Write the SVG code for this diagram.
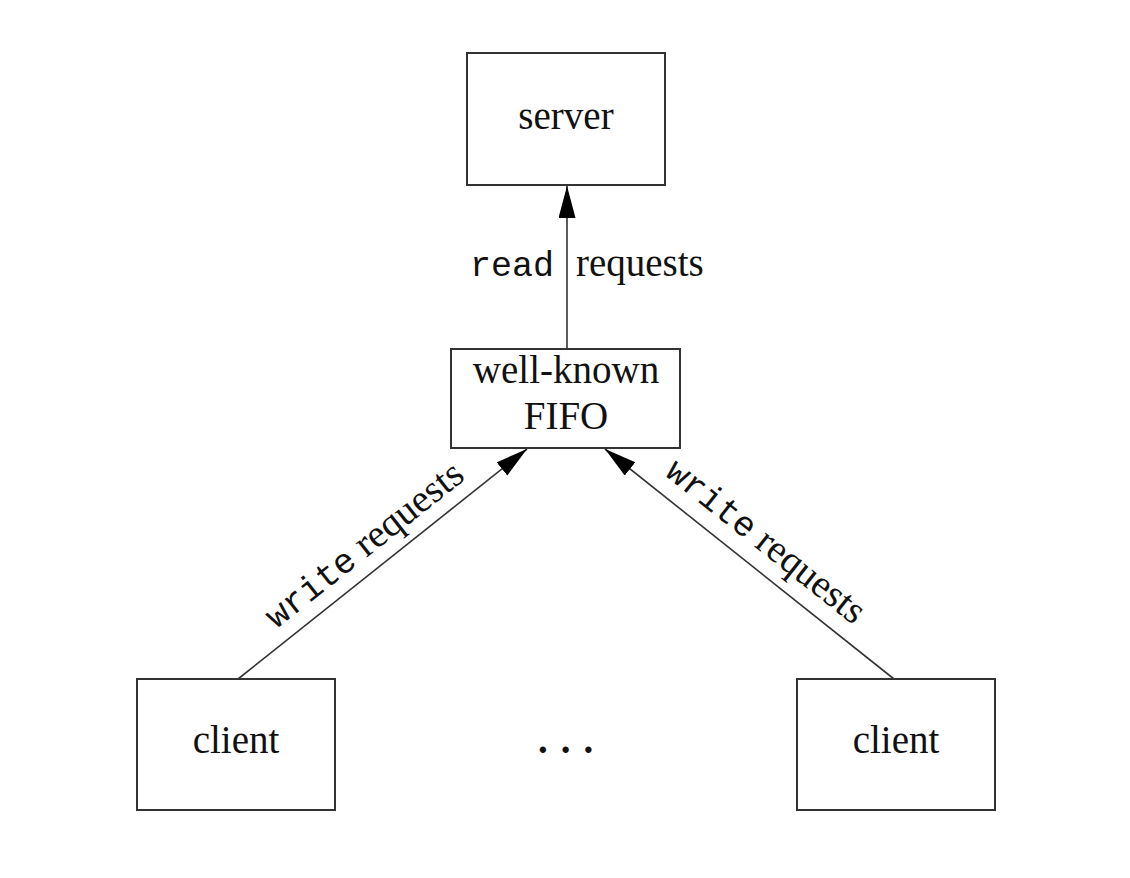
<svg xmlns="http://www.w3.org/2000/svg" width="1130" height="878" viewBox="0 0 1130 878">
<style>
.box{fill:#fff;stroke:#333;stroke-width:2}
.t{font-family:"Liberation Serif",serif;font-size:39px;fill:#111;text-anchor:middle}
.m{font-family:"Liberation Mono",monospace;font-size:35px;fill:#111}
.s{font-family:"Liberation Serif",serif;font-size:39px;fill:#111}
.ln{stroke:#333;stroke-width:1.6;fill:none;marker-end:url(#ah)}
</style>
<defs>
<marker id="ah" markerUnits="userSpaceOnUse" markerWidth="34" markerHeight="18" refX="32" refY="8.5" orient="auto">
<path d="M0,0 L32,8.5 L0,17 z" fill="#000"/>
</marker>
</defs>
<rect width="1130" height="878" fill="#fff"/>
<g id="connectors">
<line class="ln" x1="567" y1="349" x2="567" y2="186"/>
<line class="ln" x1="238" y1="679" x2="527" y2="449"/>
<line class="ln" x1="894" y1="679" x2="605" y2="449"/>
<text y="276"><tspan class="m" x="470">read</tspan><tspan class="s" x="576">requests</tspan></text>
<g transform="translate(380,565) rotate(-38.4)">
<text y="-14" text-anchor="middle"><tspan class="m">write</tspan><tspan class="s"> requests</tspan></text>
</g>
<g transform="translate(750,561) rotate(38.4)">
<text y="-14" text-anchor="middle"><tspan class="m">write</tspan><tspan class="s"> requests</tspan></text>
</g>
</g>
<g id="server">
<rect class="box" x="467" y="53" width="198" height="132"/>
<text class="t" x="566" y="129">server</text>
</g>
<g id="fifo">
<rect class="box" x="451" y="349" width="229" height="99"/>
<text class="t" x="566" y="383">well-known</text>
<text class="t" x="566" y="429">FIFO</text>
</g>
<g id="client1">
<rect class="box" x="137" y="679" width="198" height="131"/>
<text class="t" x="236" y="753">client</text>
</g>
<g id="client2">
<rect class="box" x="797" y="679" width="198" height="131"/>
<text class="t" x="896" y="753">client</text>
</g>
<g id="ellipsis">
<text class="s" x="538" y="753" font-weight="bold" letter-spacing="13">...</text>
</g>
</svg>
